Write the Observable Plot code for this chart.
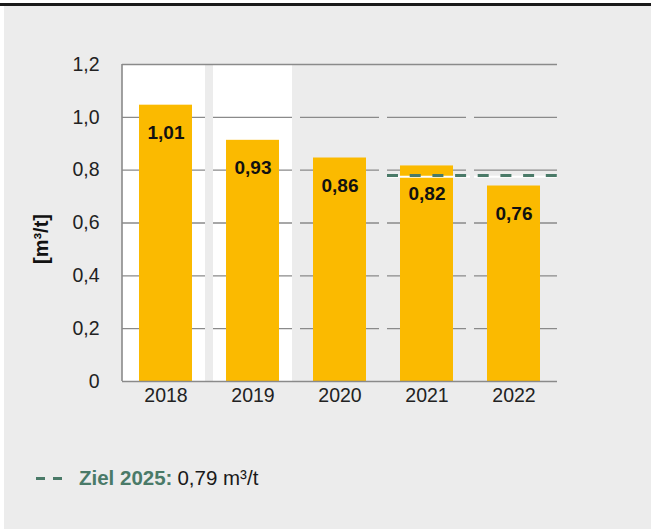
<!DOCTYPE html>
<html>
<head>
<meta charset="utf-8">
<script src="https://cdn.jsdelivr.net/npm/d3@7"></script>
<script src="https://cdn.jsdelivr.net/npm/@observablehq/plot@0.6"></script>
<style>
  body { margin: 0; background: #ffffff; font-family: "Liberation Sans", Arial, Helvetica, sans-serif; }
  #topline { position: absolute; left: 0; top: 3px; width: 651px; height: 3px; background: #1a1a1a; }
  #panel { position: absolute; left: 4px; top: 6px; width: 647px; height: 523px; background: #ececec; }
  #chart { position: absolute; left: 0; top: 0; }
  #ylabel { position: absolute; left: 41px; top: 239px; transform: translate(-50%, -50%) rotate(-90deg); font-size: 20px; font-weight: bold; color: #111; white-space: nowrap; }
  #legend { position: absolute; left: 36px; top: 466px; font-size: 20.5px; color: #1a1a1a; white-space: nowrap; display: flex; align-items: center; }
  #legend .dash { display: inline-block; width: 9px; height: 3px; background: #4a7a68; margin-right: 8px; }
  #legend .name { color: #4a7a68; font-weight: bold; margin-left: 9px; margin-right: 5px; }
</style>
</head>
<body>
<div id="topline"></div>
<div id="panel"></div>
<div id="chart"></div>
<div id="ylabel"></div>
<div id="legend"></div>
<script>
// ---- data ----
const years = ["2018", "2019", "2020", "2021", "2022"];
const barValues = [1.046, 0.913, 0.846, 0.816, 0.740];
const barLabels = ["1,01", "0,93", "0,86", "0,82", "0,76"];
const yTicks = [0, 0.2, 0.4, 0.6, 0.8, 1.0, 1.2];
const whiteYears = ["2018", "2019"];
const targetYears = ["2021", "2022"];
const targetValue = 0.78;
const targetName = "Ziel 2025:";
const targetText = "0,79 m³/t";
const yLabel = "[m³/t]";

// ---- tables ----
const bars = years.map((y, i) => ({year: y, value: barValues[i], label: barLabels[i]}));
const yMax = yTicks[yTicks.length - 1];
const gridVals = yTicks.filter(t => t > 0 && t < yMax);
const grid = [];
years.forEach(y => gridVals.forEach(v => grid.push({year: y, value: v})));
const first = years[0], last = years[years.length - 1];
const fmt = d => d === 0 ? "0" : d.toFixed(1).replace(".", ",");

const axisColor = "#8a8a8a";
const gridColor = "#8a8a8a";
const barColor = "#fbba00";
const green = "#4a7a68";

const leftLine = (index, scales, values, dimensions) => {
  const d = dimensions;
  const g = d3.create("svg:line")
    .attr("x1", d.marginLeft).attr("x2", d.marginLeft)
    .attr("y1", d.marginTop).attr("y2", d.height - d.marginBottom)
    .attr("stroke", axisColor).attr("stroke-width", 1.6);
  return g.node();
};

const chart = Plot.plot({
  width: 659,
  height: 420,
  marginLeft: 122,
  marginRight: 102,
  marginTop: 64,
  marginBottom: 39,
  style: {background: "transparent", fontSize: "19.5px", fontFamily: "'Liberation Sans', Arial, sans-serif", color: "#222"},
  x: {type: "band", domain: years, padding: 0, label: null},
  y: {domain: [0, yMax], label: null},
  marks: [
    // white column backgrounds
    Plot.barY(bars.filter(d => whiteYears.includes(d.year) && d.year === first), {x: "year", y1: 0, y2: yMax, fill: "#ffffff", insetLeft: 0, insetRight: 4}),
    Plot.barY(bars.filter(d => whiteYears.includes(d.year) && d.year !== first), {x: "year", y1: 0, y2: yMax, fill: "#ffffff", insetLeft: 4, insetRight: 4}),
    // per-column gridline segments
    Plot.tickY(grid.filter(d => d.year === first), {x: "year", y: "value", stroke: gridColor, strokeWidth: 1.4, insetLeft: 0, insetRight: 4}),
    Plot.tickY(grid.filter(d => d.year !== first && d.year !== last), {x: "year", y: "value", stroke: gridColor, strokeWidth: 1.4, insetLeft: 4, insetRight: 4}),
    Plot.tickY(grid.filter(d => d.year === last), {x: "year", y: "value", stroke: gridColor, strokeWidth: 1.4, insetLeft: 4, insetRight: 0}),
    Plot.ruleY([yMax], {stroke: gridColor, strokeWidth: 1.4}),
    // bars
    Plot.barY(bars, {x: "year", y: "value", fill: barColor, insetLeft: 17, insetRight: 17}),
    // target line
    Plot.tickY(targetYears.map(y => ({year: y, value: targetValue})), {x: "year", y: "value", stroke: "#ffffff", strokeWidth: 2, dy: 1.2, insetLeft: 4, insetRight: 0}),
    Plot.tickY([{year: targetYears[0], value: targetValue}], {x: "year", y: "value", stroke: green, strokeWidth: 3, strokeDasharray: "11 11.7", insetLeft: 4, insetRight: 0}),
    Plot.tickY([{year: targetYears[1], value: targetValue}], {x: "year", y: "value", stroke: green, strokeWidth: 3, strokeDasharray: "11 11.7", strokeDashoffset: 15, insetLeft: 0, insetRight: 0}),
    // axes
    Plot.ruleY([0], {stroke: axisColor, strokeWidth: 1.6}),
    leftLine,
    Plot.axisY({ticks: yTicks, tickFormat: fmt, tickSize: 0, tickPadding: 23, label: null}),
    Plot.axisX({tickSize: 0, tickPadding: 7, label: null}),
    // bar labels
    Plot.text(bars, {x: "year", y: "value", text: "label", dy: 28, fontWeight: "bold", fontSize: 19, fill: "#111"})
  ]
});
document.getElementById("chart").appendChild(chart);

document.getElementById("ylabel").textContent = yLabel;

const legend = document.getElementById("legend");
legend.innerHTML = `<span class="dash"></span><span class="dash"></span><span class="name"></span><span class="val"></span>`;
legend.querySelector(".name").textContent = targetName;
legend.querySelector(".val").textContent = targetText;
</script>
</body>
</html>
